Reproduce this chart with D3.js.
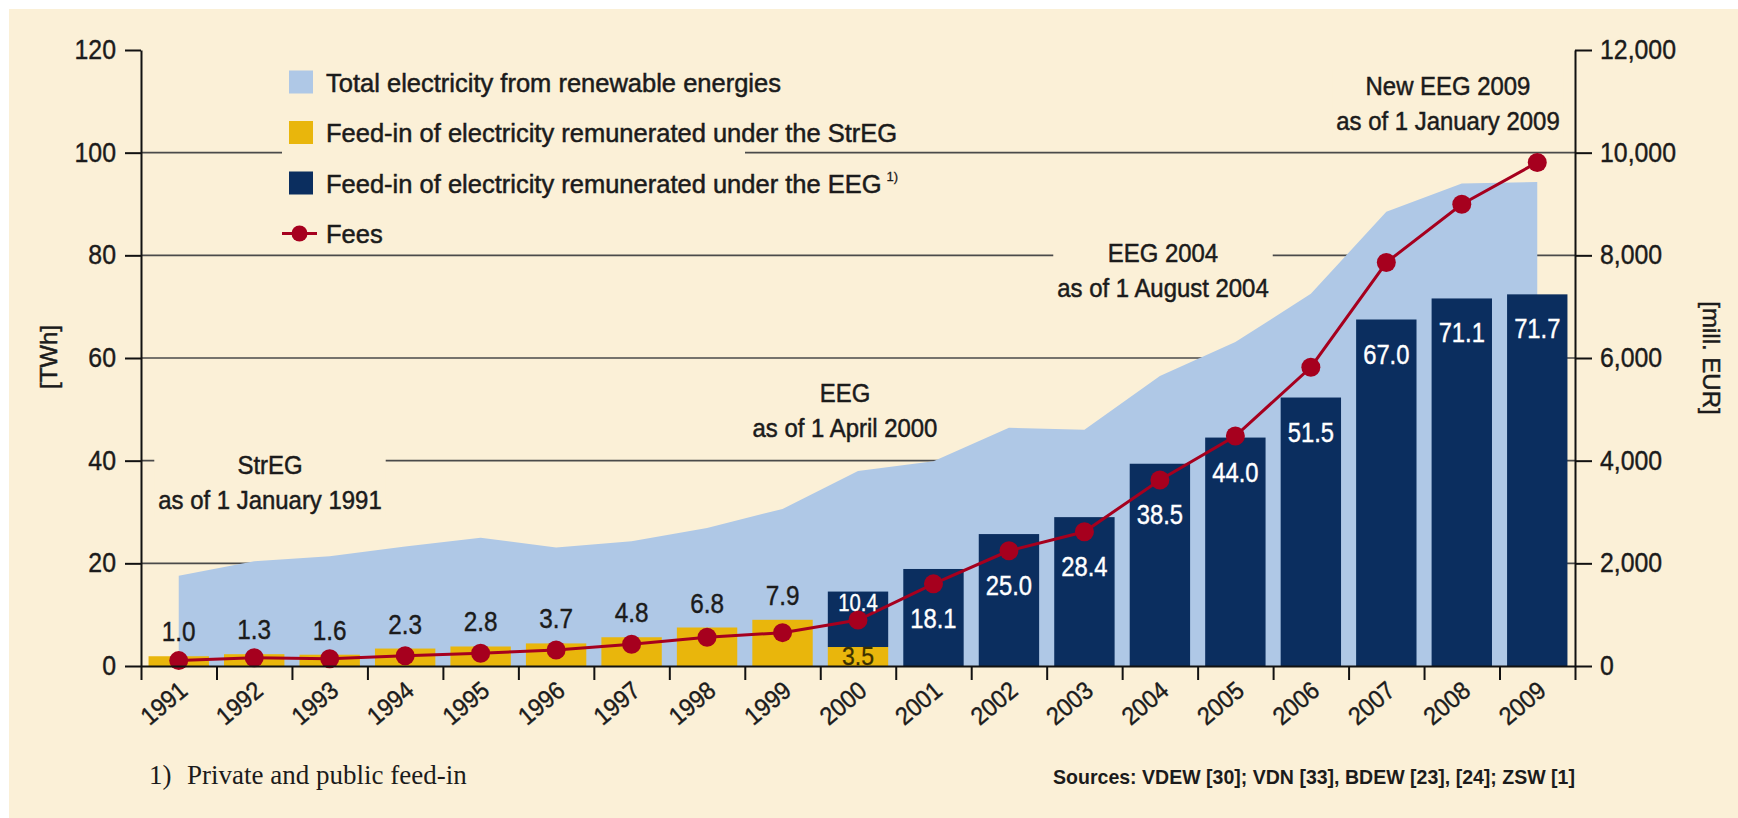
<!DOCTYPE html>
<html lang="en">
<head>
<meta charset="UTF-8">
<title>Renewable electricity feed-in and fees 1991-2009</title>
<script src="https://cdn.jsdelivr.net/npm/d3@7"></script>
<style>
  body { margin: 0; background: #fff; }
</style>
</head>
<body>
<svg width="1738" height="818"></svg>
<script>
// data
const years = ["1991","1992","1993","1994","1995","1996","1997","1998","1999","2000",
               "2001","2002","2003","2004","2005","2006","2007","2008","2009"];
// total electricity from renewable energies [TWh]
const totalRE = [17.6, 20.4, 21.4, 23.3, 25.0, 23.1, 24.3, 26.9, 30.6, 38.0,
                 39.9, 46.4, 46.0, 56.5, 63.1, 72.5, 88.5, 94.0, 94.3];
// drawn bar heights [TWh]
const strEG = [1.9, 2.3, 2.2, 3.4, 3.8, 4.4, 5.6, 7.5, 9.0, 3.7,
               0, 0, 0, 0, 0, 0, 0, 0, 0];
const eeg = [0, 0, 0, 0, 0, 0, 0, 0, 0, 10.8,
             18.9, 25.7, 29.0, 39.4, 44.5, 52.3, 67.5, 71.6, 72.4];
// printed value labels
const strEGLabels = ["1.0","1.3","1.6","2.3","2.8","3.7","4.8","6.8","7.9","3.5",
                     "","","","","","","","",""];
const eegLabels = ["","","","","","","","","","10.4",
                   "18.1","25.0","28.4","38.5","44.0","51.5","67.0","71.1","71.7"];
// fees [mill. EUR]
const fees = [105, 160, 140, 200, 250, 310, 425, 560, 650, 895,
              1600, 2245, 2615, 3625, 4480, 5820, 7860, 8995, 9810];

const leftTicks = [0, 20, 40, 60, 80, 100, 120];
const rightTicks = [0, 2000, 4000, 6000, 8000, 10000, 12000];

const legendItems = [
  {label: "Total electricity from renewable energies", kind: "total"},
  {label: "Feed-in of electricity remunerated under the StrEG", kind: "streg"},
  {label: "Feed-in of electricity remunerated under the EEG", kind: "eeg", sup: "1)"},
  {label: "Fees", kind: "fees"}
];
const notes = [
  ["StrEG", "as of 1 January 1991"],
  ["EEG", "as of 1 April 2000"],
  ["EEG 2004", "as of 1 August 2004"],
  ["New EEG 2009", "as of 1 January 2009"]
];

// look
const BG = "#FBF0D7", BLUE = "#AFC8E6", YELLOW = "#E9B60C", NAVY = "#0B2E5F", RED = "#A6001E";
const INK = "#1b1b1b";
const SANS = '"Liberation Sans", Arial, sans-serif';
const notePos = [[270, 474], [845, 402], [1163, 262], [1448, 95]];

const svg = d3.select("svg");
const W = 1738, H = 818;
const plot = {left: 141, right: 1575, top: 50, bottom: 666};

// narrow the Arial-like face so it reads like the condensed original
function squeeze(sel, k) {
  sel.each(function () {
    const len = this.getComputedTextLength();
    d3.select(this).attr("textLength", len * k).attr("lengthAdjust", "spacingAndGlyphs");
  });
  return sel;
}
function ink(sel, color, w) {
  return sel.attr("fill", color).attr("stroke", color).attr("stroke-width", w);
}

svg.append("rect").attr("width", W).attr("height", H).attr("fill", "#fff");
svg.append("rect").attr("x", 9).attr("y", 9).attr("width", W - 9).attr("height", H - 9).attr("fill", BG);

const gGrid = svg.append("g");
const gKnock = svg.append("g");
const gArea = svg.append("g");
const gBars = svg.append("g");
const gLine = svg.append("g");
const gAxes = svg.append("g");
const gText = svg.append("g").attr("font-family", SANS);

const x = d3.scaleBand().domain(years).range([plot.left, plot.right])
  .paddingInner(0.2).paddingOuter(0.1);
const xEdge = d3.scaleLinear().domain([0, years.length]).range([plot.left, plot.right]);
const y = d3.scaleLinear().domain([0, 120]).range([plot.bottom, plot.top]);
const y2 = d3.scaleLinear().domain([0, 12000]).range([plot.bottom, plot.top]);
const cx = d => x(d) + x.bandwidth() / 2;

// gridlines
gGrid.selectAll("line").data(leftTicks.filter(v => v > 0 && v < 120)).join("line")
  .attr("x1", plot.left).attr("x2", plot.right)
  .attr("y1", d => y(d)).attr("y2", d => y(d))
  .attr("stroke", "#4a4a4a").attr("stroke-width", 1.6);

const rows = years.map((yr, i) => ({yr, total: totalRE[i], s: strEG[i], e: eeg[i],
  sl: strEGLabels[i], el: eegLabels[i], fee: fees[i]}));

// area
gArea.append("path").datum(rows)
  .attr("fill", BLUE)
  .attr("d", d3.area().x(d => cx(d.yr)).y0(y(0)).y1(d => y(d.total)));

// bars
gBars.selectAll(".streg").data(rows.filter(d => d.s > 0)).join("rect")
  .attr("class", "streg")
  .attr("x", d => x(d.yr)).attr("width", x.bandwidth())
  .attr("y", d => y(d.s)).attr("height", d => y(0) - y(d.s))
  .attr("fill", YELLOW);
gBars.selectAll(".eeg").data(rows.filter(d => d.e > 0)).join("rect")
  .attr("class", "eeg")
  .attr("x", d => x(d.yr)).attr("width", x.bandwidth())
  .attr("y", d => y(d.s + d.e)).attr("height", d => y(d.s) - y(d.s + d.e))
  .attr("fill", NAVY);

// fees line
gLine.append("path").datum(rows)
  .attr("fill", "none").attr("stroke", RED).attr("stroke-width", 3)
  .attr("d", d3.line().x(d => cx(d.yr)).y(d => y2(d.fee)));
gLine.selectAll("circle").data(rows).join("circle")
  .attr("cx", d => cx(d.yr)).attr("cy", d => y2(d.fee)).attr("r", 9.5)
  .attr("fill", RED);

// axes
const axL = gAxes.append("g").attr("transform", `translate(${plot.left},0)`)
  .call(d3.axisLeft(y).tickValues(leftTicks).tickSize(16).tickSizeOuter(0).tickPadding(9));
const axR = gAxes.append("g").attr("transform", `translate(${plot.right},0)`)
  .call(d3.axisRight(y2).tickValues(rightTicks).tickSize(17).tickSizeOuter(0).tickPadding(8)
    .tickFormat(d3.format(",")));
const axB = gAxes.append("g").attr("transform", `translate(0,${plot.bottom})`)
  .call(d3.axisBottom(xEdge).ticks(years.length).tickSize(14).tickSizeOuter(0).tickFormat(""));
const axLab = gAxes.append("g").attr("transform", `translate(0,${plot.bottom})`)
  .call(d3.axisBottom(x).tickSize(0).tickSizeOuter(0));
axLab.select(".domain").remove();

[axL, axR, axB, axLab].forEach(a => {
  a.attr("font-family", SANS).attr("font-size", 27);
  a.selectAll("path, line").attr("stroke", "#111").attr("stroke-width", 2);
  ink(a.selectAll("text"), INK, 0.4);
});
axLab.attr("font-size", 25);
axLab.selectAll("text")
  .attr("y", 0).attr("dy", "0.35em")
  .attr("text-anchor", "middle")
  .attr("transform", "translate(-15,37) rotate(-40)");
squeeze(axL.selectAll("text"), 0.92);
squeeze(axR.selectAll("text"), 0.92);
squeeze(axLab.selectAll("text"), 0.93);

// bar labels
squeeze(ink(gText.selectAll(".lblS").data(rows.filter(d => d.sl && d.e === 0)).join("text")
  .attr("class", "lblS")
  .attr("x", d => cx(d.yr)).attr("y", d => y(d.s) - 15)
  .attr("text-anchor", "middle").attr("font-size", 27)
  .text(d => d.sl), INK, 0.4), 0.9);
squeeze(ink(gText.selectAll(".lblS2").data(rows.filter(d => d.sl && d.e > 0)).join("text")
  .attr("class", "lblS2")
  .attr("x", d => cx(d.yr)).attr("y", y(0) - 1)
  .attr("text-anchor", "middle").attr("font-size", 25)
  .text(d => d.sl), "#3b3000", 0.3), 0.92);
squeeze(ink(gText.selectAll(".lblE").data(rows.filter(d => d.el)).join("text")
  .attr("class", "lblE")
  .attr("x", d => cx(d.yr))
  .attr("y", d => {
    const top = y(d.s + d.e);
    if (y(d.s) - top < 80) return top + 19;
    return Math.max(top, y2(d.fee)) + 44;
  })
  .attr("text-anchor", "middle")
  .attr("font-size", d => (y(d.s) - y(d.s + d.e) < 80 ? 23 : 27))
  .text(d => d.el), "#fff", 0.4), 0.88);

// legend
const legX = 289, legY0 = 82, legStep = 50.5;
const leg = gText.append("g");
legendItems.forEach((it, i) => {
  const cy = legY0 + i * legStep;
  const g = leg.append("g");
  if (it.kind === "fees") {
    g.append("line").attr("x1", legX - 7).attr("x2", legX + 28).attr("y1", cy).attr("y2", cy)
      .attr("stroke", RED).attr("stroke-width", 3);
    g.append("circle").attr("cx", legX + 10.5).attr("cy", cy).attr("r", 8).attr("fill", RED);
  } else {
    const fill = it.kind === "total" ? BLUE : it.kind === "streg" ? YELLOW : NAVY;
    g.append("rect").attr("x", legX).attr("y", cy - 11.5).attr("width", 24).attr("height", 23)
      .attr("fill", fill);
  }
  const t = ink(g.append("text").attr("x", legX + 37).attr("y", cy + 9.5)
    .attr("font-size", 25.5).text(it.label), INK, 0.5);
  if (it.sup) {
    const end = legX + 37 + t.node().getComputedTextLength();
    ink(g.append("text").attr("x", end + 5).attr("y", cy - 2)
      .attr("font-size", 13).text(it.sup), INK, 0.3);
  }
});
// the legend interrupts the 100 line on its left part
gKnock.append("rect").attr("x", 282).attr("y", y(100) - 4).attr("width", 745 - 282).attr("height", 8)
  .attr("fill", BG);

// phase notes
notes.forEach((lines, i) => {
  const [nx, ny] = notePos[i];
  const g = gText.append("g");
  lines.forEach((s, j) => {
    squeeze(ink(g.append("text").attr("x", nx).attr("y", ny + j * 35)
      .attr("text-anchor", "middle").attr("font-size", 26).text(s), INK, 0.5), 0.92);
  });
  const b = g.node().getBBox();
  gKnock.append("rect").attr("x", b.x - 4).attr("y", b.y - 2)
    .attr("width", b.width + 8).attr("height", b.height + 4).attr("fill", BG);
});

// axis titles
ink(gText.append("text").attr("transform", "translate(57,357) rotate(-90)")
  .attr("text-anchor", "middle").attr("font-size", 24).text("[TWh]"), INK, 0.5);
ink(gText.append("text").attr("transform", "translate(1703,358) rotate(90)")
  .attr("text-anchor", "middle").attr("font-size", 24).text("[mill. EUR]"), INK, 0.5);

// footer
const serif = '"Liberation Serif", "DejaVu Serif", serif';
gText.append("text").attr("x", 149).attr("y", 784).attr("font-family", serif)
  .attr("font-size", 27).attr("fill", INK).text("1)");
gText.append("text").attr("x", 187).attr("y", 784).attr("font-family", serif)
  .attr("font-size", 27).attr("fill", INK).text("Private and public feed-in");
squeeze(gText.append("text").attr("x", plot.right).attr("y", 784)
  .attr("text-anchor", "end").attr("font-size", 21).attr("font-weight", "bold").attr("fill", INK)
  .text("Sources: VDEW [30]; VDN [33], BDEW [23], [24]; ZSW [1]"), 0.93);
</script>
</body>
</html>
